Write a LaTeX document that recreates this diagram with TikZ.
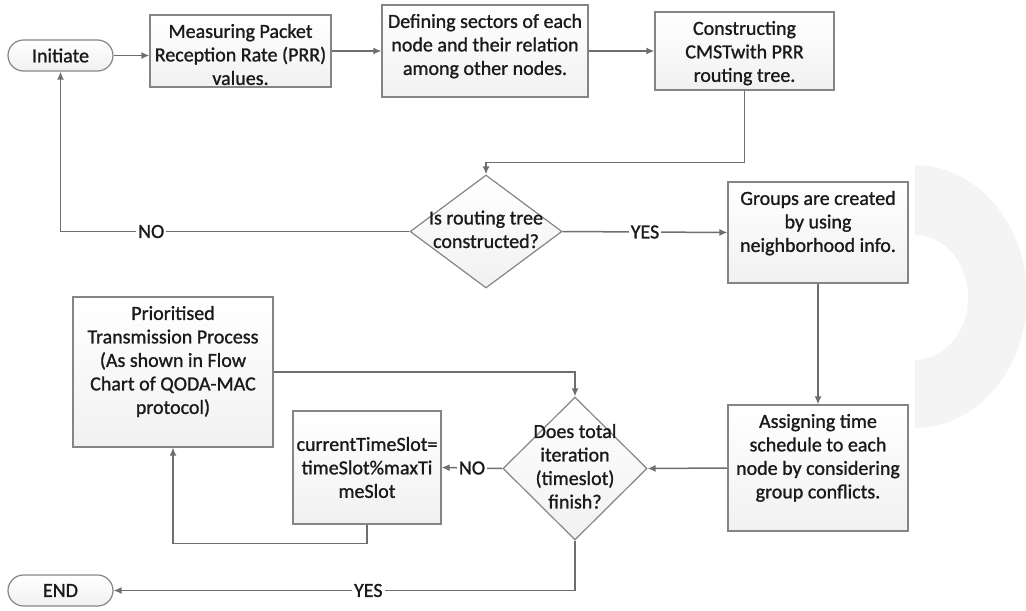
\documentclass[tikz,border=0pt]{standalone}
\usepackage{fontspec}
\setmainfont{Carlito}[FakeBold=1.1]
\usetikzlibrary{shapes.geometric,shapes.misc,arrows.meta}

\definecolor{boxgray}{HTML}{858585}
\definecolor{boxfill}{HTML}{F1F1F1}
\definecolor{linegray}{HTML}{6E6E6E}
\definecolor{markgray}{HTML}{F4F4F4}
\definecolor{inkgray}{HTML}{1A1A1A}

\newcommand{\flowfont}{\fontsize{10}{11.75}\selectfont\color{inkgray}}
% text set at the top of a box of fixed size
\newcommand{\boxtext}[3]{\parbox[c][#2][t]{#1}{\centering\vspace*{4.5pt}#3}}
% text of a decision, with no size of its own
\newcommand{\asktext}[1]{\raisebox{-2.5pt}[0pt][0pt]{\makebox[0pt]{\begin{tabular}{@{}c@{}}#1\end{tabular}}}}

\tikzset{
  flowbox/.style={draw=boxgray, line width=0.6pt, top color=white, bottom color=boxfill, inner sep=0pt, font=\flowfont},
  term/.style={rounded rectangle, draw=boxgray, line width=0.6pt, top color=white, bottom color=boxfill, minimum width=52.5pt, minimum height=15.5pt, inner sep=0pt, font=\flowfont},
  decide/.style={diamond, draw=boxgray, line width=0.6pt, top color=white, bottom color=boxfill, inner sep=0pt, font=\flowfont},
  flow/.style={draw=linegray, line width=0.75pt, -{Latex[length=4pt,width=3.5pt]}},
  answer/.style={fill=white, inner sep=1pt, font=\flowfont}
}

\begin{document}
\begin{tikzpicture}[x=0.5pt, y=-0.5pt]
    \useasboundingbox (0,0) rectangle (1026,610);

    % pale mark at the right
    \fill[markgray] (915,165) arc[start angle=-90, end angle=90, x radius=112, y radius=131.5]
      -- (915,360) arc[start angle=90, end angle=-90, x radius=53, y radius=62.5] -- cycle;

    % steps
    \node[term] (init) at (60.5,55.5) {Initiate};
    \node[flowbox] (meas) at (240.5,51) {\boxtext{90.5pt}{36pt}{Measuring Packet\\Reception Rate (PRR)\\values.}};
    \node[flowbox] (sect) at (485,51) {\boxtext{103pt}{46pt}{Defining sectors of each\\node and their relation\\among other nodes.}};
    \node[flowbox] (cmst) at (744.5,51) {\boxtext{89.5pt}{39pt}{Constructing\\CMSTwith PRR\\routing tree.}};
    \node[decide, minimum width=76pt, minimum height=56.5pt] (tree) at (486,231.5) {\asktext{Is routing tree\\constructed?}};
    \node[flowbox] (grp) at (818,232.5) {\boxtext{90pt}{50.5pt}{Groups are created\\by using\\neighborhood info.}};
    \node[flowbox] (asg) at (818,468) {\boxtext{90pt}{63pt}{Assigning time\\schedule to each\\node by considering\\group conflicts.}};
    \node[decide, minimum width=72pt, minimum height=71.5pt] (iter) at (575,468.5) {\asktext{Does total\\iteration\\(timeslot)\\finish?}};
    \node[flowbox] (prio) at (173,372) {\boxtext{100pt}{75pt}{Prioritised\\Transmission Process\\(As shown in Flow\\Chart of QODA-MAC\\protocol)}};
    \node[flowbox] (slot) at (367,467.5) {\parbox[c][56.5pt][c]{74pt}{\centering currentTimeSlot=\\timeSlot\%maxTi\\meSlot}};
    \node[term] (end) at (60.5,590.5) {END};

    % connectors
    \draw[flow] (init.east) -- (init.east -| meas.west);
    \draw[flow] (meas.east) -- (sect.west);
    \draw[flow] (sect.east) -- (cmst.west);
    \draw[flow] (cmst.south) -- ++(0,72) -| (tree.north);
    \draw[flow] (tree.west) -| node[answer, pos=0.37] {NO} (init.south);
    \draw[flow] (tree.east) -- node[answer] {YES} (grp.west);
    \draw[flow] (grp.south) -- (asg.north);
    \draw[flow] (asg.west) -- (iter.east);
    \draw[flow] (prio.east) -| (iter.north);
    \draw[flow] (iter.west) -- node[answer] {NO} (slot.east);
    \draw[flow] (slot.south) -- ++(0,19) -| (prio.south);
    \draw[flow] (iter.south) |- node[answer, pos=0.724] {YES} (end.east);
\end{tikzpicture}
\end{document}
